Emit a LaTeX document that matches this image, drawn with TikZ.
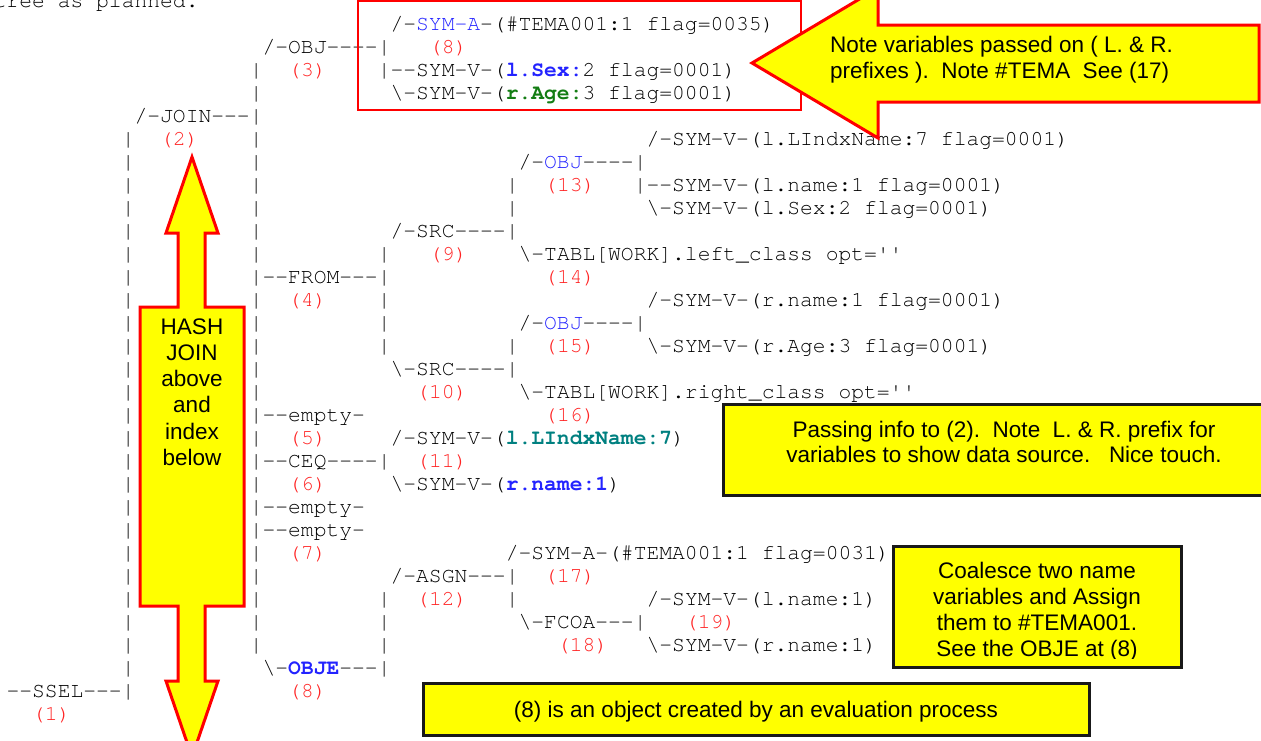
\documentclass[tikz,border=0pt]{standalone}
\usepackage{fontspec}
\setmainfont{Liberation Sans}
\setmonofont{texgyrecursor}[Extension=.otf, UprightFont=*-regular, BoldFont=*-bold, Ligatures=CommonOff]

\definecolor{lblred}{RGB}{255,35,35}
\definecolor{symblue}{RGB}{35,35,255}
\definecolor{agegreen}{RGB}{20,125,20}
\definecolor{idxteal}{RGB}{0,128,128}
\definecolor{noteyellow}{RGB}{255,255,0}
\definecolor{noteline}{RGB}{255,0,0}

\tikzset{
  mono/.style={font=\ttfamily\fontsize{21.33}{23}\selectfont, anchor=base west, inner sep=0pt, text=black},
  lbl/.style={mono, text=lblred},
  note/.style={font=\fontsize{22.5}{26}\selectfont, anchor=base, inner sep=0pt},
  callout/.style={fill=noteyellow, draw=noteline, line width=3pt},
  notebox/.style={fill=noteyellow, draw=black!90, line width=3pt}
}

\begin{document}
\begin{tikzpicture}[x=1pt,y=-1pt]
\useasboundingbox (0,0) rectangle (1261,740);
\clip (0,0) rectangle (1261,740);
% tree dump on a character grid (column, row)
\begin{scope}[shift={(6.4,7)},x=12.8pt,y=-23pt]
\node[mono] (title) at (-1,0) {tree as planned.};
\node[mono] (symA8) at (30,1) {/-\textcolor{symblue}{SYM-A}-(\#TEMA001:1 flag=0035)};
\node[mono] (obj3) at (20,2) {/-OBJ----|};
\node[lbl] (lbl8top) at (33,2) {(8)};
\node[lbl] (lbl3) at (22,3) {(3)};
\node[mono] (symSex) at (29,3) {|--SYM-V-(\textcolor{symblue}{\bfseries l.Sex:}2 flag=0001)};
\node[mono] (symAge) at (30,4) {\textbackslash-SYM-V-(\textcolor{agegreen}{\bfseries r.Age:}3 flag=0001)};
\node[mono] (join2) at (10,5) {/-JOIN---|};
\node[lbl] (lbl2) at (12,6) {(2)};
\node[mono] (symIdxL) at (50,6) {/-SYM-V-(l.LIndxName:7 flag=0001)};
\node[mono] (obj13) at (40,7) {/-\textcolor{symblue}{OBJ}----|};
\node[lbl] (lbl13) at (42,8) {(13)};
\node[mono] (symNameL) at (49,8) {|--SYM-V-(l.name:1 flag=0001)};
\node[mono] (symSexL) at (50,9) {\textbackslash-SYM-V-(l.Sex:2 flag=0001)};
\node[mono] (src9) at (30,10) {/-SRC----|};
\node[lbl] (lbl9) at (33,11) {(9)};
\node[mono] (tabL) at (40,11) {\textbackslash-TABL[WORK].left\_class opt=''};
\node[mono] (from4) at (19,12) {|--FROM---|};
\node[lbl] (lbl14) at (42,12) {(14)};
\node[lbl] (lbl4) at (22,13) {(4)};
\node[mono] (symNameR) at (50,13) {/-SYM-V-(r.name:1 flag=0001)};
\node[mono] (obj15) at (40,14) {/-\textcolor{symblue}{OBJ}----|};
\node[lbl] (lbl15) at (42,15) {(15)};
\node[mono] (symAgeR) at (50,15) {\textbackslash-SYM-V-(r.Age:3 flag=0001)};
\node[mono] (src10) at (30,16) {\textbackslash-SRC----|};
\node[lbl] (lbl10) at (32,17) {(10)};
\node[mono] (tabR) at (40,17) {\textbackslash-TABL[WORK].right\_class opt=''};
\node[mono] (empty5) at (19,18) {|--empty-};
\node[lbl] (lbl16) at (42,18) {(16)};
\node[lbl] (lbl5) at (22,19) {(5)};
\node[mono] (ceqL) at (30,19) {/-SYM-V-(\textcolor{idxteal}{\bfseries l.LIndxName:7})};
\node[mono] (ceq6) at (19,20) {|--CEQ----|};
\node[lbl] (lbl11) at (32,20) {(11)};
\node[lbl] (lbl6) at (22,21) {(6)};
\node[mono] (ceqR) at (30,21) {\textbackslash-SYM-V-(\textcolor{symblue}{\bfseries r.name:1})};
\node[mono] (emptyA) at (19,22) {|--empty-};
\node[mono] (empty7) at (19,23) {|--empty-};
\node[lbl] (lbl7) at (22,24) {(7)};
\node[mono] (symA17) at (39,24) {/-SYM-A-(\#TEMA001:1 flag=0031)};
\node[mono] (asgn12) at (30,25) {/-ASGN---|};
\node[lbl] (lbl17) at (42,25) {(17)};
\node[lbl] (lbl12) at (32,26) {(12)};
\node[mono] (coaL) at (50,26) {/-SYM-V-(l.name:1)};
\node[mono] (fcoa18) at (40,27) {\textbackslash-FCOA---|};
\node[lbl] (lbl19) at (53,27) {(19)};
\node[lbl] (lbl18) at (43,28) {(18)};
\node[mono] (coaR) at (50,28) {\textbackslash-SYM-V-(r.name:1)};
\node[mono] (obje8) at (20,29) {\textbackslash-\textcolor{symblue}{\bfseries OBJE}---|};
\node[mono] (ssel1) at (0,30) {--SSEL---|};
\node[lbl] (lbl8) at (22,30) {(8)};
\node[lbl] (lbl1) at (2,31) {(1)};
% branch bars
\foreach \r in {6,...,29}
  \node[mono] (barA\r) at (9,\r) {|};
\foreach \r in {3,4,6,7,8,9,10,11,13,14,15,16,17,19,21,24,25,26,27,28}
  \node[mono] (barB\r) at (19,\r) {|};
\foreach \r in {11,13,14,15,26,27,28}
  \node[mono] (barC\r) at (29,\r) {|};
\foreach \r in {8,9,15,26}
  \node[mono] (barD\r) at (39,\r) {|};
\end{scope}

% box round OBJ (3) and the arrow pointing at it
\draw[noteline, line width=2pt] (358,1) rectangle (801,110);
\draw[callout] (752,63) -- (878,-12) -- (878,25) -- (1259,25) -- (1259,102)
  -- (878,102) -- (878,138) -- cycle;
\node[note, anchor=base west] (passA) at (830,52) {Note variables passed on ( L. \& R.};
\node[note, anchor=base west] (passB) at (830,78.5) {prefixes ).\ \ Note \#TEMA\ \ See (17)};

% double arrow between JOIN and SSEL
\draw[callout] (192,157) -- (218,233) -- (205,233) -- (205,307) -- (244,307)
  -- (244,606) -- (205,606) -- (205,681) -- (218,681) -- (192,757)
  -- (166,681) -- (178,681) -- (178,606) -- (140,606) -- (140,307)
  -- (178,307) -- (178,233) -- (166,233) -- cycle;
\foreach \w [count=\i from 0] in {HASH,JOIN,above,and,index,below}
  \node[note] (hash\i) at (192,{334+26.3*\i}) {\w};

% notes
\draw[notebox] (723,404) rectangle (1290,495);
\node[note] (infoA) at (1004,437) {Passing info to (2).\ \ Note\ \ L. \& R. prefix for};
\node[note] (infoB) at (1004,462) {variables to show data source.\ \ \ Nice touch.};

\fill[noteyellow] (893,546) rectangle (1181,667);
\begin{scope}
\clip (894.5,547.5) rectangle (1179.5,658.5);
\node[note] (coalA) at (1037,578) {Coalesce two name};
\node[note] (coalB) at (1037,604) {variables and Assign};
\node[note] (coalC) at (1037,630) {them to \#TEMA001.};
\node[note] (coalD) at (1037,656) {See the OBJE at (8)};
\end{scope}
\draw[black!90, line width=3pt] (893,546) rectangle (1181,667);

\draw[notebox] (423,683) rectangle (1089,735);
\node[note] (objeNote) at (756,717) {(8) is an object created by an evaluation process};
\end{tikzpicture}
\end{document}
